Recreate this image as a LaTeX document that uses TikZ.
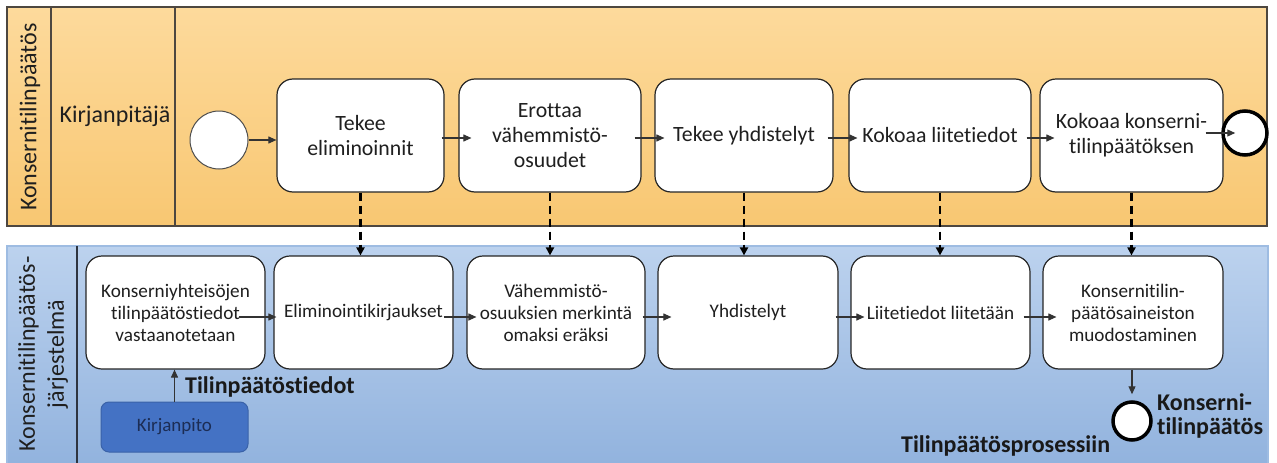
\documentclass[tikz,border=0pt]{standalone}
\usepackage{fontspec}
\setmainfont{Carlito}[Ligatures={NoCommon}]
\usetikzlibrary{arrows.meta,calc}
\definecolor{orTop}{HTML}{FDDA9C}
\definecolor{orBot}{HTML}{F8C772}
\definecolor{blTop}{HTML}{BCD2EE}
\definecolor{blBot}{HTML}{92B3DE}
\definecolor{blLine}{HTML}{9EBCE2}
\definecolor{poolLine}{HTML}{4D4740}
\definecolor{kpFill}{HTML}{4472C4}
\definecolor{kpLine}{HTML}{3A62A8}
\definecolor{kpText}{HTML}{1C2D55}
\definecolor{txt}{HTML}{1F1F1F}
\definecolor{divLine}{HTML}{2E3440}
\tikzset{
  task/.style={draw=black!85, line width=1.2pt, fill=white, rounded corners=16pt,
    align=center, inner sep=0pt, text=txt, minimum height=113pt},
  toptask/.style={task, font=\fontsize{21.8}{25}\selectfont},
  bottask/.style={task, font=\fontsize{19.2}{22}\selectfont},
  lanelbl/.style={font=\fontsize{24}{29}\selectfont, text=txt, align=center},
  boldlbl/.style={font=\bfseries\fontsize{24}{24}\selectfont, text=black!90, inner sep=0pt},
  arr/.style={draw=black!80, line width=1.1pt, -{Triangle[length=8pt,width=7pt]}},
  dasharr/.style={draw=black, line width=2.4pt, dash pattern=on 8pt off 5pt,
    -{Triangle[length=8pt,width=8pt]}},
  startev/.style={circle, draw=black!70, line width=1pt, fill=white, minimum size=58pt, inner sep=0pt},
  endev/.style={circle, draw=black, line width=3.5pt, fill=white, inner sep=0pt},
}
\begin{document}
\begin{tikzpicture}[x=1pt,y=-1pt]
\useasboundingbox (0,0) rectangle (1277,463);
% upper pool
\shade[top color=orTop, bottom color=orBot] (7,7) rectangle (1267,226);
\draw[poolLine, line width=1.2pt] (7,7) rectangle (1267,226);
\draw[poolLine, line width=1.2pt] (51,7) -- (51,226);
\draw[poolLine, line width=1.2pt] (175,7) -- (175,226);
% lower pool
\shade[top color=blTop, bottom color=blBot] (7,246) rectangle (1268,463);
\draw[blLine, line width=1.3pt] (7,463) -- (7,246) -- (1268,246) -- (1268,463);
\draw[divLine, line width=1.1pt] (77,246) -- (77,463);
% labels
\node[lanelbl, rotate=90] (poolA) at (30,117) {Konsernitilinpäätös};
\node[lanelbl, rotate=90] (poolB) at (43,354) {Konsernitilinpäätös-\\järjestelmä};
\node[lanelbl] (laneA) at (115,116) {Kirjanpitäjä};
% upper tasks
\node[startev] (s0) at (219,140) {};
\node[toptask, minimum width=167pt] (b1) at (360.5,135.5) {Tekee\\eliminoinnit};
\node[toptask, minimum width=182pt] (b2) at (550,135.5) {Erottaa\\vähemmistö-\\osuudet};
\node[toptask, minimum width=178pt] (b3) at (744,135.5) {Tekee yhdistelyt};
\node[toptask, minimum width=182pt] (b4) at (940,135.5) {Kokoaa liitetiedot};
\node[toptask, minimum width=183pt] (b5) at (1131.5,135.5) {Kokoaa konserni-\\tilinpäätöksen};
\node[endev, minimum size=44pt] (e1) at (1245,133) {};
% lower tasks
\node[bottask, minimum width=179pt] (c1) at (175.5,312.5) {Konserniyhteisöjen\\tilinpäätöstiedot\\vastaanotetaan};
\node[bottask, minimum width=179pt] (c2) at (363.5,312.5) {Eliminointikirjaukset};
\node[bottask, minimum width=178pt] (c3) at (556,312.5) {Vähemmistö-\\osuuksien merkintä\\omaksi eräksi};
\node[bottask, minimum width=180pt] (c4) at (748,312.5) {Yhdistelyt};
\node[bottask, minimum width=179pt] (c5) at (940.5,312.5) {Liitetiedot liitetään};
\node[bottask, minimum width=180pt] (c6) at (1133,312.5) {Konsernitilin-\\päätösaineiston\\muodostaminen};
\node[endev, minimum size=38pt] (e2) at (1132,421) {};
\node[draw=kpLine, line width=1pt, fill=kpFill, rounded corners=8pt, minimum width=147pt,
  minimum height=50pt, text=kpText, font=\fontsize{19}{22}\selectfont] (kp) at (174.5,427) {Kirjanpito};
% bold labels
\node[boldlbl, anchor=base west] (lbl1) at (185,393) {Tilinpäätöstiedot};
\node[boldlbl, anchor=base west, align=left] (lbl2) at (1157,434) {Konserni-\\tilinpäätös};
\node[boldlbl, anchor=base west] (lbl3) at (901,452) {Tilinpäätösprosessiin};
% upper flow
\draw[arr] (s0.east) -- (s0.east -| b1.west);
\draw[arr, shorten <=-3pt, shorten >=-13pt] ([yshift=-2.5pt]b1.east) -- ([yshift=-2.5pt]b2.west);
\draw[arr, shorten <=-7pt, shorten >=-10pt] ([yshift=-2.5pt]b2.east) -- ([yshift=-2.5pt]b3.west);
\draw[arr, shorten <=-6pt, shorten >=-9pt] ([yshift=-2.5pt]b3.east) -- ([yshift=-2.5pt]b4.west);
\draw[arr, shorten <=-5pt, shorten >=-15pt] ([yshift=-2.5pt]b4.east) -- ([yshift=-2.5pt]b5.west);
\draw[arr] ([xshift=-18pt]e1.west -| b5.east) -- ([xshift=14pt]e1.west);
% lower flow
\draw[arr, shorten <=-27pt, shorten >=-3pt] ([yshift=-4.5pt]c1.east) -- ([yshift=-4.5pt]c2.west);
\draw[arr, shorten <=-10pt, shorten >=-10pt] ([yshift=-4.5pt]c2.east) -- ([yshift=-4.5pt]c3.west);
\draw[arr, shorten <=-3pt, shorten >=-14pt] ([yshift=-4.5pt]c3.east) -- ([yshift=-4.5pt]c4.west);
\draw[arr, shorten <=-3pt, shorten >=-14pt] ([yshift=-4.5pt]c4.east) -- ([yshift=-4.5pt]c5.west);
\draw[arr, shorten <=-7pt, shorten >=-14pt] ([yshift=-4.5pt]c5.east) -- ([yshift=-4.5pt]c6.west);
\draw[arr, shorten >=6pt] (c6.south -| e2) -- (e2.north);
\draw[arr] (kp.north) -- (kp.north |- c1.south);
% dashed links
\draw[dasharr] (b1.south) -- (b1.south |- c2.north);
\draw[dasharr] (b2.south) -- (b2.south |- c3.north);
\draw[dasharr] (b3.south) -- (b3.south |- c4.north);
\draw[dasharr] (b4.south) -- (b4.south |- c5.north);
\draw[dasharr] (b5.south) -- (b5.south |- c6.north);
\end{tikzpicture}
\end{document}
